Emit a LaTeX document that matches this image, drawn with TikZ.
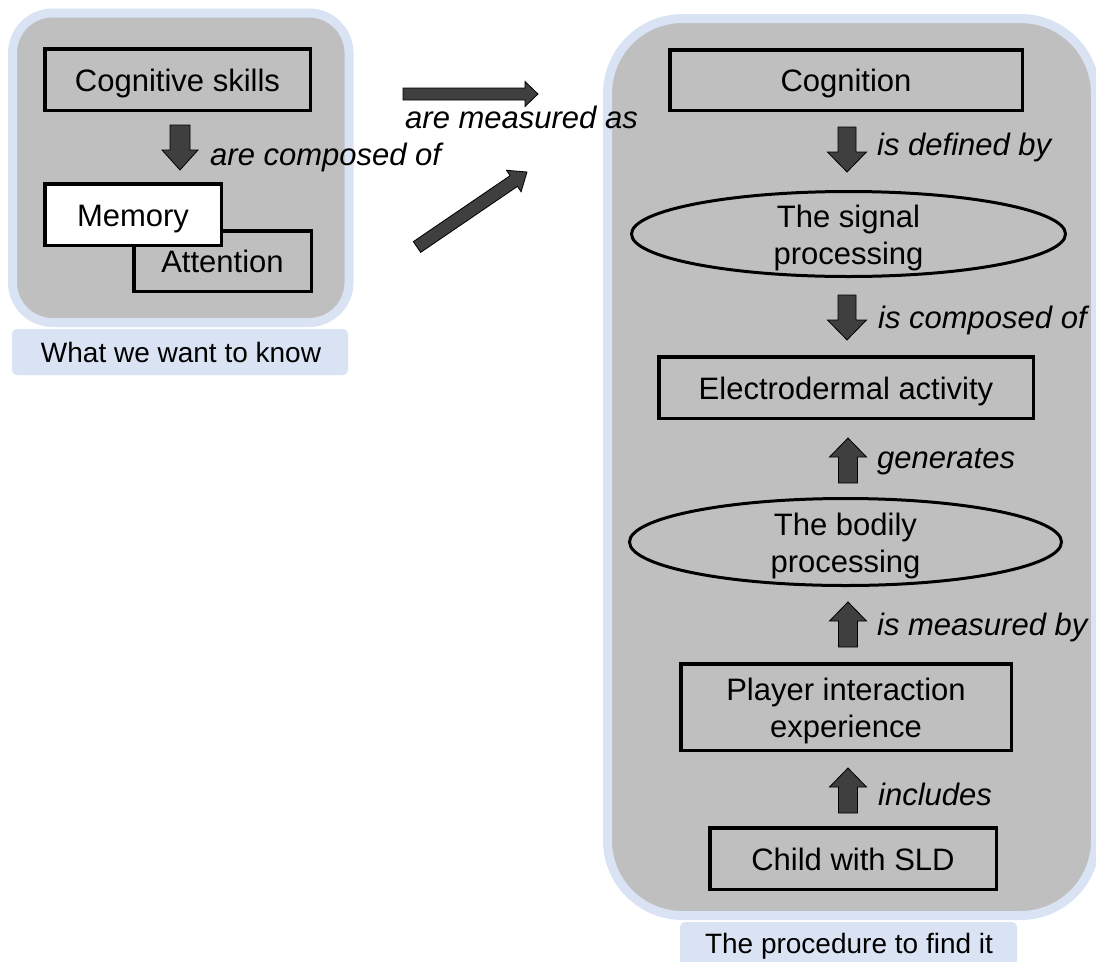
\documentclass[tikz,border=0pt]{standalone}
\usepackage{fontspec}
\setmainfont{Liberation Sans}
\usetikzlibrary{calc,shapes.geometric}

\definecolor{panelgray}{HTML}{BFBFBF}
\definecolor{panelblue}{HTML}{DAE3F3}
\definecolor{arrowfill}{HTML}{3F3F3F}

% Block arrow from #1 (tail) to #2 (tip):
% #3 half shaft width, #4 half head width, #5 head length
\newcommand\fatarrow[5]{%
  \coordinate (fa-base) at ($(#2)!#5!(#1)$);
  \draw[fatarr] ($(#1)!#3!90:(#2)$) -- ($(fa-base)!#3!90:(#2)$)
    -- ($(fa-base)!#4!90:(#2)$) -- (#2) -- ($(fa-base)!#4!-90:(#2)$)
    -- ($(fa-base)!#3!-90:(#2)$) -- ($(#1)!#3!-90:(#2)$) -- cycle;}

\begin{document}
\begin{tikzpicture}[x=1pt,y=-1pt,
  panel/.style={draw=panelblue, line width=9pt, fill=panelgray},
  txt/.style={font=\fontsize{31}{37}\selectfont, align=center, inner sep=0pt},
  box/.style={txt, draw=black, line width=3.5pt, rectangle, fill=panelgray,
    text height=23pt, text depth=0pt},
  % two lines: the box is referenced at the last baseline
  twoline/.style={text height=60pt, text depth=0pt},
  oval/.style={txt, draw=black, line width=3pt, ellipse, twoline},
  rel/.style={font=\fontsize{31}{37}\selectfont\itshape, anchor=base west, inner sep=0pt},
  caption/.style={font=\fontsize{28}{33}\selectfont, anchor=base, inner sep=0pt},
  fatarr/.style={fill=arrowfill, draw=black, line width=0.8pt, line join=miter}
]
\useasboundingbox (0,0) rectangle (1096,962);

% panels and their captions
\draw[panel, rounded corners=40pt] (12.5,13) rectangle (349,322.5);
\draw[panel, rounded corners=75pt] (607.5,18.5) rectangle (1095.5,915.5);
\fill[panelblue, rounded corners=5pt] (12,329) rectangle (348,375);
\fill[panelblue, rounded corners=5pt] (680,922) rectangle (1017,980);
\node[caption] (know) at (181,362) {What we want to know};
\node[caption] (proc) at (849,953) {The procedure to find it};

% left panel
\node[box, minimum width=265.5pt, minimum height=61.5pt] (cog) at (177.5,79.5) {Cognitive skills};
\node[box, minimum width=177.5pt, minimum height=60.5pt] (att) at (222.5,261) {Attention};
\node[box, fill=white, minimum width=176.5pt, minimum height=61.5pt] (mem) at (133,214.5) {Memory};

% right panel
\node[box, minimum width=352.5pt, minimum height=60.5pt] (cogn) at (846,80) {Cognition};
\node[oval, minimum width=434pt, minimum height=85pt] (sig) at (848.5,234) {The signal\\processing};
\node[box, minimum width=374.5pt, minimum height=61.5pt] (eda) at (846,387.5) {Electrodermal activity};
\node[oval, minimum width=432pt, minimum height=87pt] (body) at (845.5,542) {The bodily\\processing};
\node[box, twoline, minimum width=330.5pt, minimum height=86.5pt] (pie) at (846,707) {Player interaction\\experience};
\node[box, minimum width=286.5pt, minimum height=61.5pt] (child) at (853,858.5) {Child with SLD};

% arrow end points
\coordinate (a1t) at (180,125);   \coordinate (a1h) at (180,170);
\coordinate (m1t) at (403,94);    \coordinate (m1h) at (538,94);
\coordinate (m2t) at (417,247);   \coordinate (m2h) at (527,172);
\coordinate (r1t) at (847,127);   \coordinate (r1h) at (847,172);
\coordinate (r2t) at (847,295);   \coordinate (r2h) at (847,340);
\coordinate (r3t) at (848,483);   \coordinate (r3h) at (848,438);
\coordinate (r4t) at (848,647);   \coordinate (r4h) at (848,602);
\coordinate (r5t) at (848,813);   \coordinate (r5h) at (848,768);

\fatarrow{a1t}{a1h}{10pt}{18pt}{20pt}
\fatarrow{m1t}{m1h}{6pt}{12.5pt}{13pt}
\fatarrow{m2t}{m2h}{6.5pt}{13pt}{16pt}
\fatarrow{r1t}{r1h}{9pt}{19.5pt}{20pt}
\fatarrow{r2t}{r2h}{9pt}{19.5pt}{20pt}
\fatarrow{r3t}{r3h}{9.5pt}{18.5pt}{19pt}
\fatarrow{r4t}{r4h}{9.5pt}{18.5pt}{19pt}
\fatarrow{r5t}{r5h}{9.5pt}{18.5pt}{19pt}

% relation labels
\node[rel] (l1) at (210,165) {are composed of};
\node[rel] (l2) at (405,128) {are measured as};
\node[rel] (l3) at (877,155) {is defined by};
\node[rel] (l4) at (878,328) {is composed of};
\node[rel] (l5) at (877,468) {generates};
\node[rel] (l6) at (877,635) {is measured by};
\node[rel] (l7) at (878,805) {includes};
\end{tikzpicture}
\end{document}
